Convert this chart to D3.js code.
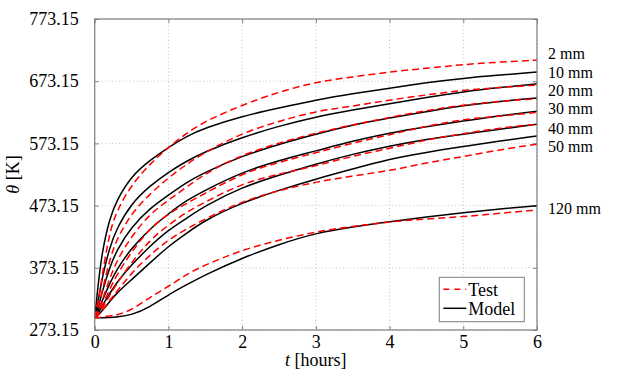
<!DOCTYPE html>
<html lang="en">
<head>
<meta charset="UTF-8">
<title>Temperature vs time</title>
<style>
body { margin: 0; background: #fff; }
svg text { font-family: "Liberation Serif", "DejaVu Serif", serif; font-size: 18px; fill: #000; }
.grid line { stroke: #c4c4c4; stroke-width: 1; stroke-dasharray: 1,2.5; }
.axis path { display: none; }
.axis line { stroke: #7f7f7f; }
</style>
</head>
<body>
<svg id="chart" width="632" height="380"></svg>
<script src="https://d3js.org/d3.v7.min.js"></script>
<script>
// time in hours, temperatures in K
var hours = [0, 0.05, 0.1, 0.2, 0.3, 0.5, 0.75, 1, 1.25, 1.5, 2, 2.5, 3, 3.5, 4, 4.5, 5, 5.5, 6];

var thickness = ["2 mm", "10 mm", "20 mm", "30 mm", "40 mm", "50 mm", "120 mm"];
// temperature where each thickness label sits on the right
var labelTemps = [718, 688, 658, 630, 597, 568, 469];

var model2   = [293, 350, 398, 452, 482, 521, 546, 567, 585, 598, 617, 630, 643, 653, 662, 671, 678, 683, 688];
var model10  = [293, 321, 357, 405, 437, 477, 505, 527, 545, 560, 583, 601, 616, 627, 637, 647, 656, 663, 669];
var model20  = [293, 310, 334, 373, 402, 439, 469, 490, 511, 527, 553, 572, 588, 603, 614, 624, 634, 641, 646];
var model30  = [293, 304, 320, 347, 371, 405, 436, 460, 482, 498, 527, 546, 561, 577, 590, 600, 609, 618, 625];
var model40  = [293, 300, 312, 331, 350, 378, 408, 434, 453, 473, 503, 522, 540, 556, 569, 580, 588, 596, 604];
var model50  = [293, 297, 304, 318, 333, 354, 381, 408, 429, 450, 478, 498, 516, 532, 548, 559, 568, 577, 585];
var model120 = [293, 293, 293, 293, 294, 297, 310, 330, 346, 362, 389, 411, 429, 439, 447, 455, 462, 468, 473];

var test2   = [293, 320, 360, 430, 465, 507, 540, 567, 590, 609, 635, 656, 672, 680, 688, 694, 700, 704, 707];
var test10  = [293, 310, 335, 385, 420, 461, 492, 518, 540, 559, 590, 609, 625, 633, 643, 651, 659, 663, 667];
var test20  = [293, 303, 320, 355, 385, 424, 460, 482, 503, 525, 555, 574, 590, 603, 615, 626, 635, 641, 645];
var test30  = [293, 300, 312, 338, 362, 399, 437, 460, 477, 493, 525, 543, 558, 574, 587, 601, 612, 617, 623];
var test40  = [293, 298, 308, 328, 348, 382, 418, 442, 463, 479, 509, 524, 537, 553, 565, 579, 589, 598, 604];
var test50  = [293, 297, 304, 320, 335, 365, 394, 418, 436, 452, 480, 498, 511, 521, 529, 542, 552, 563, 572];
var test120 = [293, 293, 294, 296, 297, 305, 326, 343, 363, 378, 402, 418, 431, 440, 447, 452, 455, 461, 466];

var modelSeries = [model2, model10, model20, model30, model40, model50, model120];
var testSeries = [test2, test10, test20, test30, test40, test50, test120];

var xTicks = [0, 1, 2, 3, 4, 5, 6];
var yTicks = [273.15, 373.15, 473.15, 573.15, 673.15, 773.15];

var serif = '"Liberation Serif", "DejaVu Serif", serif';

var margin = { top: 19, right: 95, bottom: 50, left: 94.7 },
    width = 632 - margin.left - margin.right,
    height = 380 - margin.top - margin.bottom;

var svg = d3.select("#chart");
var g = svg.append("g")
  .attr("transform", "translate(" + margin.left + "," + margin.top + ")");

var x = d3.scaleLinear().domain([0, 6]).range([0, width]);
var y = d3.scaleLinear().domain([273.15, 773.15]).range([height, 0]);

// dotted grid
g.append("g").attr("class", "grid")
  .selectAll("line").data(xTicks).enter().append("line")
  .attr("x1", d => x(d)).attr("x2", d => x(d))
  .attr("y1", 0).attr("y2", height);
g.append("g").attr("class", "grid")
  .selectAll("line").data(yTicks).enter().append("line")
  .attr("x1", 0).attr("x2", width)
  .attr("y1", d => y(d)).attr("y2", d => y(d));

// axes, ticks pointing inside like pgfplots
g.append("g").attr("class", "axis")
  .attr("transform", "translate(0," + height + ")")
  .call(d3.axisBottom(x).tickValues(xTicks).tickSize(-4).tickPadding(5).tickFormat(d3.format("d")));
g.append("g").attr("class", "axis")
  .call(d3.axisTop(x).tickValues(xTicks).tickSize(-4).tickFormat(""));
g.append("g").attr("class", "axis")
  .call(d3.axisLeft(y).tickValues(yTicks).tickSize(-4).tickPadding(16).tickFormat(d3.format(".2f")));
g.append("g").attr("class", "axis")
  .attr("transform", "translate(" + width + ",0)")
  .call(d3.axisRight(y).tickValues(yTicks).tickSize(-4).tickFormat(""));
// drop d3's sans-serif defaults so the serif font applies
g.selectAll(".axis").attr("font-family", null).attr("font-size", null);
g.selectAll(".axis text").style("font-family", serif).style("font-size", "18px");

var line = d3.line()
  .x((d, i) => x(hours[i]))
  .y(d => y(d))
  .curve(d3.curveBasis);

// model curves
g.selectAll(".model").data(modelSeries).enter().append("path")
  .attr("class", "model")
  .attr("d", line)
  .attr("fill", "none")
  .attr("stroke", "#000")
  .attr("stroke-width", 1.5);

// test curves
g.selectAll(".test").data(testSeries).enter().append("path")
  .attr("class", "test")
  .attr("d", line)
  .attr("fill", "none")
  .attr("stroke", "#ff0000")
  .attr("stroke-width", 1.5)
  .attr("stroke-dasharray", "7,4");

// frame
g.append("rect")
  .attr("width", width).attr("height", height)
  .attr("fill", "none").attr("stroke", "#7f7f7f").attr("stroke-width", 1.2);

// thickness labels
g.selectAll(".lbl").data(thickness).enter().append("text")
  .attr("class", "lbl")
  .attr("x", width + 11)
  .attr("y", (d, i) => y(labelTemps[i]))
  .attr("dy", "0.35em")
  .style("font-size", "16px")
  .text(d => d);

// axis titles
var xt = svg.append("text")
  .attr("x", margin.left + width / 2)
  .attr("y", 366)
  .attr("text-anchor", "middle");
xt.append("tspan").style("font-style", "italic").text("t");
xt.append("tspan").text(" [hours]");

var yt = svg.append("text")
  .attr("transform", "translate(19," + (margin.top + height / 2) + ") rotate(-90)")
  .attr("text-anchor", "middle");
yt.append("tspan").style("font-style", "italic").text("θ");
yt.append("tspan").text(" [K]");

// legend
var lg = g.append("g").attr("transform", "translate(" + (width - 97.7) + "," + (height - 52.7) + ")");
lg.append("rect")
  .attr("width", 85).attr("height", 44.4)
  .attr("fill", "#fff").attr("stroke", "#7f7f7f").attr("stroke-width", 1);
var legendItems = [
  { name: "Test", color: "#ff0000", dash: "6,5" },
  { name: "Model", color: "#000", dash: null }
];
legendItems.forEach(function(it, i) {
  var yy = 12 + i * 19;
  lg.append("line")
    .attr("x1", 4).attr("x2", 27).attr("y1", yy).attr("y2", yy)
    .attr("stroke", it.color).attr("stroke-width", 1.5)
    .attr("stroke-dasharray", it.dash);
  lg.append("text")
    .attr("x", 29).attr("y", yy).attr("dy", "0.35em")
    .text(it.name);
});
</script>
</body>
</html>
